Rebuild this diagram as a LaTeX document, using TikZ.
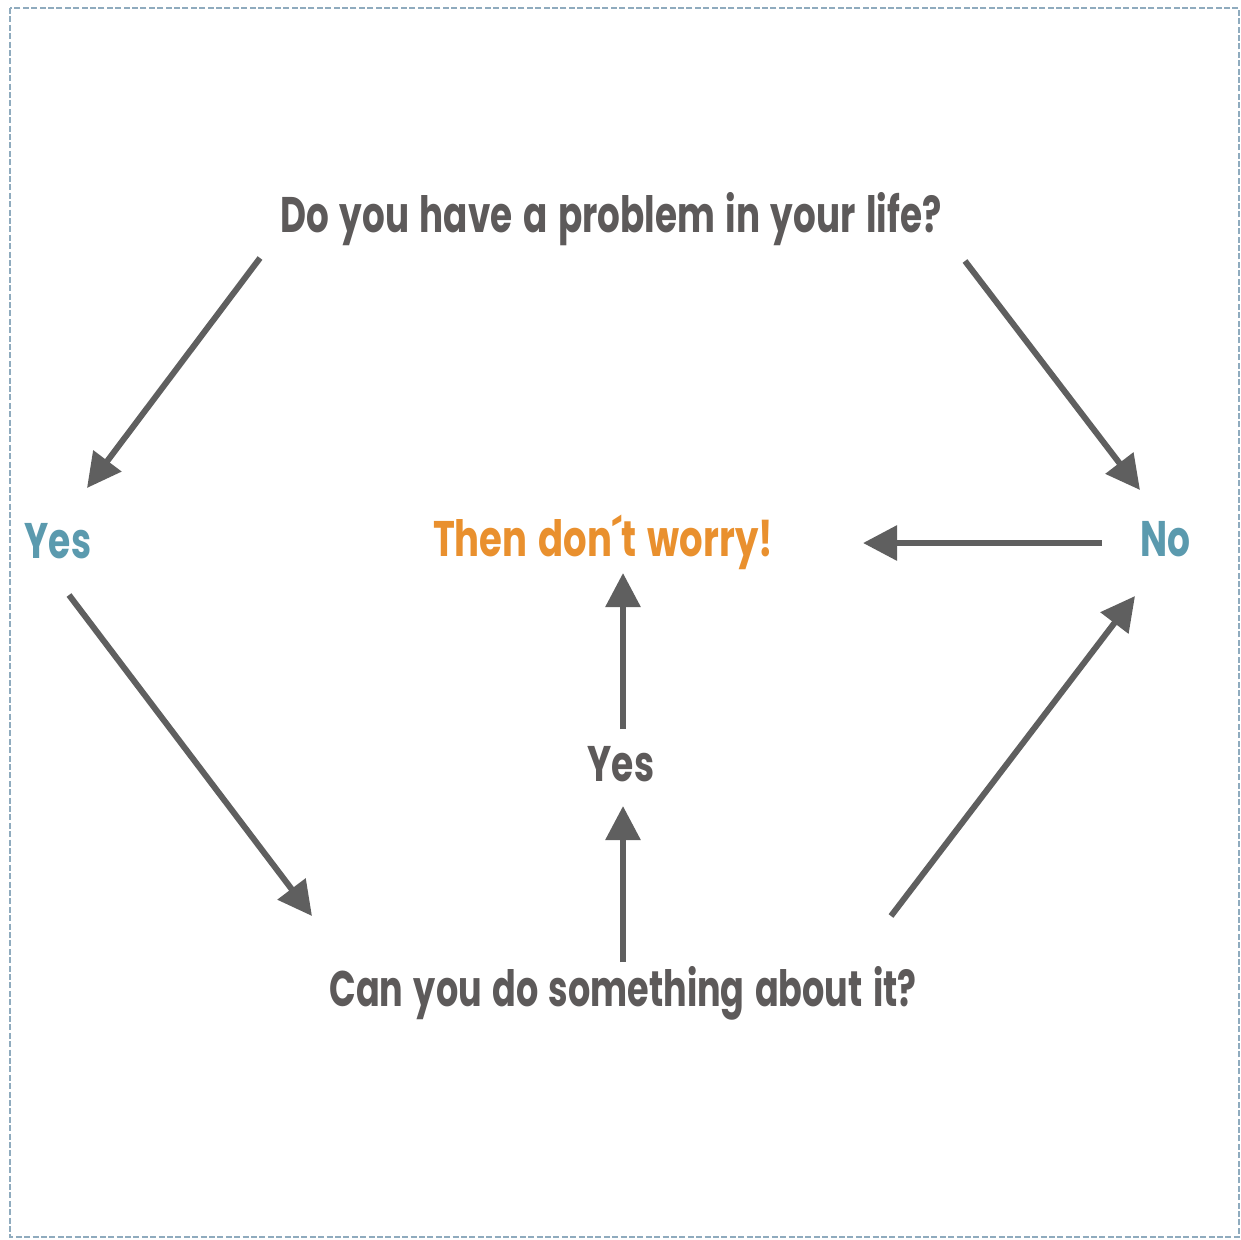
\documentclass[tikz,border=0pt]{standalone}
\usepackage{fontspec}
\setmainfont{Poppins}[WordSpace={1.4}]
\usetikzlibrary{arrows.meta}
\definecolor{txtgray}{RGB}{93,90,90}
\definecolor{txtblue}{RGB}{91,154,174}
\definecolor{txtorange}{RGB}{233,144,46}
\definecolor{arrgray}{RGB}{95,95,95}
\definecolor{bordercol}{RGB}{143,171,190}
\newcommand{\cond}[2][0.72]{\scalebox{#1}[1]{#2}}
\tikzset{
  lbl/.style={font=\fontsize{25}{30}\selectfont\bfseries, inner sep=0pt, anchor=base},
  conn/.style={draw=arrgray, line width=3pt, -{Triangle[length=17pt,width=17pt]}},
}
\begin{document}
\begin{tikzpicture}[x=0.5pt,y=-0.5pt]
\useasboundingbox (0,0) rectangle (1241,1239);
\draw[bordercol, line width=1.2pt, dash pattern=on 3pt off 1.2pt] (10,8) rectangle (1239,1237);

\node[lbl, text=txtgray] (q1) at (611,232) {\cond[0.715]{Do you have a problem in your life?}};
\node[lbl, text=txtblue] (yes1) at (58,558) {\cond{Yes}};
\node[lbl, text=txtorange] (dont) at (603,556) {\cond[0.74]{Then don´t worry!}};
\node[lbl, text=txtblue] (no1) at (1165,556) {\cond{No}};
\node[lbl, text=txtgray] (yes2) at (621,781) {\cond{Yes}};
\node[lbl, text=txtgray] (q2) at (623,1006) {\cond[0.7]{Can you do something about it?}};

\coordinate (a1s) at (260,258); \coordinate (a1e) at (87,488);
\coordinate (a2s) at (965,261); \coordinate (a2e) at (1140,490);
\coordinate (a3s) at (1102,543); \coordinate (a3e) at (863,543);
\coordinate (a4s) at (69,595); \coordinate (a4e) at (312,916);
\coordinate (a5s) at (623,962); \coordinate (a5e) at (623,806);
\coordinate (a6s) at (623,729); \coordinate (a6e) at (623,573);
\coordinate (a7s) at (891,916); \coordinate (a7e) at (1135,596);

\draw[conn] (a1s) -- (a1e);
\draw[conn] (a2s) -- (a2e);
\draw[conn] (a3s) -- (a3e);
\draw[conn] (a4s) -- (a4e);
\draw[conn] (a5s) -- (a5e);
\draw[conn] (a6s) -- (a6e);
\draw[conn] (a7s) -- (a7e);
\end{tikzpicture}
\end{document}
